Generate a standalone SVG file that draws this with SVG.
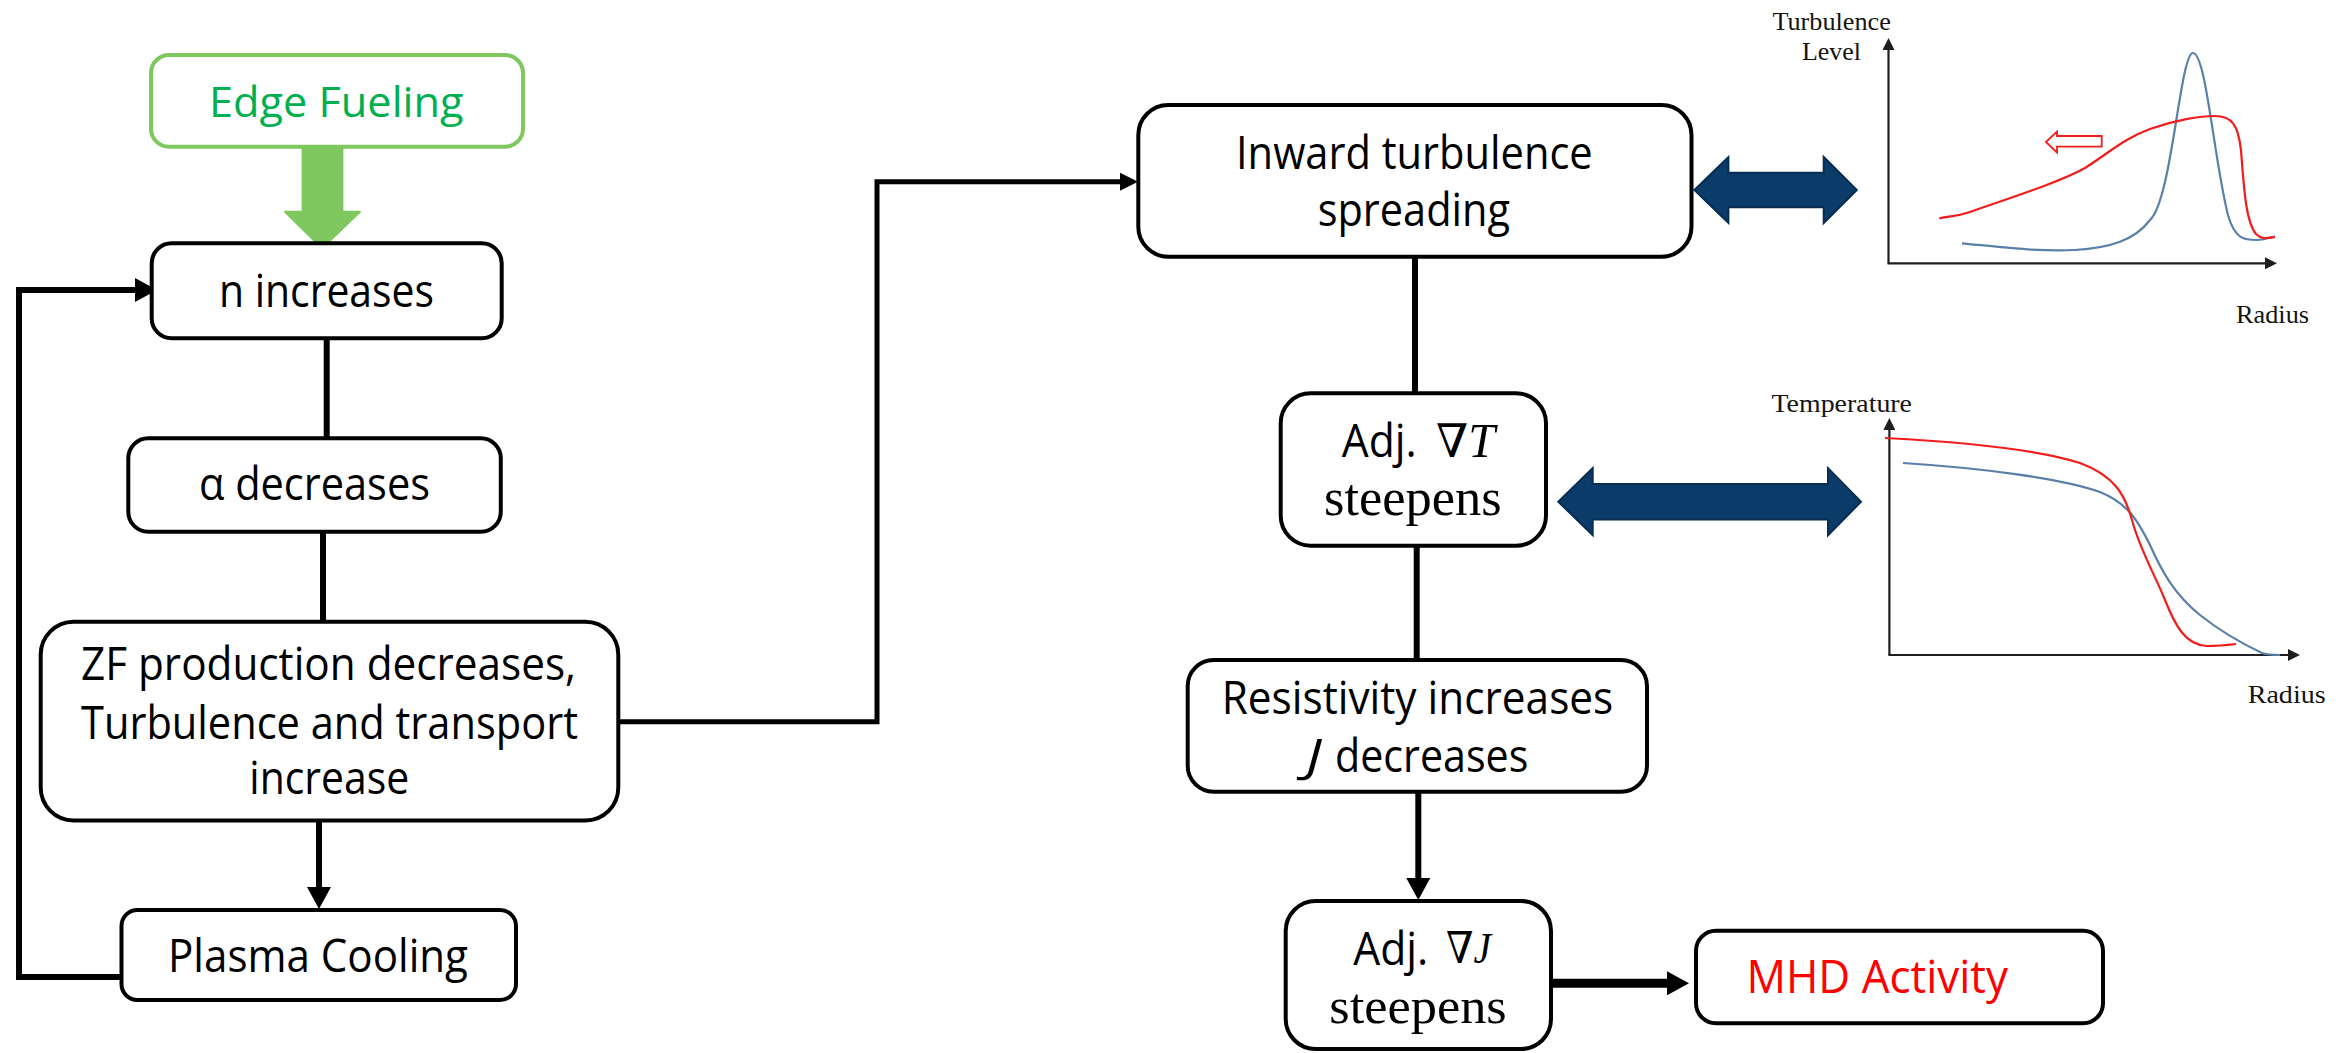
<svg xmlns="http://www.w3.org/2000/svg" width="2351" height="1053" viewBox="0 0 2351 1053">
  <style>
    .box { fill: #ffffff; stroke: #000000; stroke-width: 4; }
    .fuel { fill: #ffffff; stroke: #7ec85f; stroke-width: 4; }
    .lbl { font-family: "Open Sans", "Liberation Sans", sans-serif; font-size: 45px; fill: #000000; }
    .math { font-family: "Liberation Serif", "DejaVu Serif", serif; fill: #000000; }
    .nabla { font-family: "DejaVu Serif", serif; font-style: italic; font-size: 46px; }
    .ax-lbl { font-family: "Liberation Serif", "Times New Roman", serif; font-size: 26px; fill: #141414; }
    .wire { fill: none; stroke: #000000; stroke-width: 6; }
    .thin { fill: none; stroke: #000000; stroke-width: 5; }
    .thick { fill: none; stroke: #000000; stroke-width: 9; }
    .dbl { fill: #0b3b69; stroke: #082d52; stroke-width: 2; stroke-linejoin: miter; }
    .axis { fill: none; stroke: #1e1e1e; stroke-width: 2.2; }
    .red { fill: none; stroke: #f21c1c; stroke-width: 2.2; }
    .blue { fill: none; stroke: #5a7fa8; stroke-width: 2.2; }
  </style>
  <defs>
    <marker id="head" viewBox="0 0 22 24" refX="0" refY="12" markerWidth="22" markerHeight="24" markerUnits="userSpaceOnUse" orient="auto">
      <path d="M0,0 L22,12 L0,24 Z" fill="#000000"/>
    </marker>
    <marker id="head-sm" viewBox="0 0 18 18" refX="0" refY="9" markerWidth="18" markerHeight="18" markerUnits="userSpaceOnUse" orient="auto">
      <path d="M0,0 L18,9 L0,18 Z" fill="#000000"/>
    </marker>
    <marker id="axhead" viewBox="0 0 12 12" refX="0" refY="6" markerWidth="12" markerHeight="12" markerUnits="userSpaceOnUse" orient="auto">
      <path d="M0,0 L12,6 L0,12 Z" fill="#1e1e1e"/>
    </marker>
  </defs>

  <rect width="2351" height="1053" fill="#ffffff"/>

  <!-- connectors -->
  <g id="connectors">
    <!-- fueling input -->
    <polygon points="302.6,147 342.4,147 342.4,211.7 360,211.7 322,248.3 285,211.7 302.6,211.7" fill="#7ec85f" stroke="#7ec85f" stroke-width="2" stroke-linejoin="round"/>
    <!-- cooling feedback loop -->
    <path class="wire" d="M121.5,977 H19 V290 H135" marker-end="url(#head)"/>
    <path class="wire" d="M326.7,338 V438"/>
    <path class="wire" d="M323,532 V622"/>
    <path class="wire" d="M319,820.5 V887" marker-end="url(#head)"/>
    <!-- left chain to right chain -->
    <path class="thin" d="M618,721.7 H877 V181.7 H1120" marker-end="url(#head-sm)"/>
    <path class="wire" d="M1415,257 V393"/>
    <path class="wire" d="M1416.7,546 V660"/>
    <path class="wire" d="M1418.3,792 V878" marker-end="url(#head)"/>
    <path class="thick" d="M1551,983.3 H1667" marker-end="url(#head)"/>
    <!-- links to the profile sketches -->
    <polygon class="dbl" points="1694.4,190 1728.4,157 1728.4,172.7 1823.7,172.7 1823.7,157 1856.8,190 1823.7,223 1823.7,207.3 1728.4,207.3 1728.4,223"/>
    <polygon class="dbl" points="1558.3,501.7 1592.7,468.2 1592.7,484 1828,484 1828,468.2 1861,501.7 1828,535.2 1828,519.4 1592.7,519.4 1592.7,535.2"/>
  </g>

  <!-- nodes -->
  <g id="edge-fueling">
    <rect class="fuel" x="151" y="55" width="372" height="91.7" rx="18"/>
    <text class="lbl" x="209" y="116.7" style="fill:#00b050;font-size:42px" textLength="254.5" lengthAdjust="spacingAndGlyphs">Edge Fueling</text>
  </g>

  <g id="n-increases">
    <rect class="box" x="151.7" y="243.3" width="350" height="95" rx="20"/>
    <text class="lbl" x="219" y="306.7" textLength="215" lengthAdjust="spacingAndGlyphs">n increases</text>
  </g>

  <g id="alpha-decreases">
    <rect class="box" x="128.3" y="438.3" width="372.5" height="93.4" rx="20"/>
    <text class="lbl" x="199" y="500" textLength="231" lengthAdjust="spacingAndGlyphs">α decreases</text>
  </g>

  <g id="zf-production">
    <rect class="box" x="40.7" y="621.7" width="577.6" height="198.8" rx="33"/>
    <text class="lbl" x="81" y="680" textLength="495" lengthAdjust="spacingAndGlyphs">ZF production decreases,</text>
    <text class="lbl" x="81" y="738.5" textLength="497" lengthAdjust="spacingAndGlyphs">Turbulence and transport</text>
    <text class="lbl" x="249.3" y="794.3" textLength="160" lengthAdjust="spacingAndGlyphs">increase</text>
  </g>

  <g id="plasma-cooling">
    <rect class="box" x="121.5" y="910" width="394.5" height="90" rx="16"/>
    <text class="lbl" x="168" y="971.7" textLength="300" lengthAdjust="spacingAndGlyphs">Plasma Cooling</text>
  </g>

  <g id="inward-spreading">
    <rect class="box" x="1138.3" y="105" width="553.2" height="151.7" rx="30"/>
    <text class="lbl" x="1236" y="169.3" textLength="356.7" lengthAdjust="spacingAndGlyphs">Inward turbulence</text>
    <text class="lbl" x="1317.7" y="226" textLength="192.3" lengthAdjust="spacingAndGlyphs">spreading</text>
  </g>

  <g id="grad-t-steepens">
    <rect class="box" x="1280.7" y="393.3" width="265.3" height="152.4" rx="30"/>
    <text class="lbl" x="1341.7" y="457.3" textLength="75" lengthAdjust="spacingAndGlyphs">Adj.</text>
    <text class="math" x="1436" y="457.3" font-size="48" font-style="italic" textLength="59" lengthAdjust="spacingAndGlyphs"><tspan class="nabla">∇</tspan>T</text>
    <text class="math" x="1324" y="515" font-size="52" textLength="177.7" lengthAdjust="spacingAndGlyphs">steepens</text>
  </g>

  <g id="resistivity">
    <rect class="box" x="1187.7" y="660" width="459.3" height="131.7" rx="26"/>
    <text class="lbl" x="1221.7" y="714" textLength="391.6" lengthAdjust="spacingAndGlyphs">Resistivity increases</text>
    <text class="lbl" x="1306" y="771.7" font-style="italic" textLength="15.7" lengthAdjust="spacingAndGlyphs">J</text>
    <text class="lbl" x="1335" y="771.7" textLength="193.3" lengthAdjust="spacingAndGlyphs">decreases</text>
  </g>

  <g id="grad-j-steepens">
    <rect class="box" x="1285.7" y="901" width="265.3" height="148" rx="30"/>
    <text class="lbl" x="1353.3" y="965" textLength="75" lengthAdjust="spacingAndGlyphs">Adj.</text>
    <text class="math" x="1446" y="963" font-size="44" font-style="italic" textLength="45" lengthAdjust="spacingAndGlyphs"><tspan class="nabla" style="font-size:44px">∇</tspan>J</text>
    <text class="math" x="1329.3" y="1022.7" font-size="50" textLength="177.4" lengthAdjust="spacingAndGlyphs">steepens</text>
  </g>

  <g id="mhd-activity">
    <rect class="box" x="1696" y="930.7" width="407" height="92.6" rx="20"/>
    <text class="lbl" x="1746.4" y="993.3" style="fill:#ff0000" textLength="261.6" lengthAdjust="spacingAndGlyphs">MHD Activity</text>
  </g>

  <!-- turbulence level profile -->
  <g id="turbulence-plot">
    <path class="axis" d="M1888.5,263.3 V50" marker-end="url(#axhead)"/>
    <path class="axis" d="M1887.5,263.3 H2265" marker-end="url(#axhead)"/>
    <text class="ax-lbl" x="1772.4" y="30" textLength="118.4" lengthAdjust="spacingAndGlyphs">Turbulence</text>
    <text class="ax-lbl" x="1802" y="60" textLength="59" lengthAdjust="spacingAndGlyphs">Level</text>
    <text class="ax-lbl" x="2236" y="322.7" textLength="73" lengthAdjust="spacingAndGlyphs">Radius</text>
    <path class="blue" d="M1962,243.3 C2000,247 2040,252 2075,250 C2110,248 2135,240 2150,220 C2172,200 2180,53 2193,53 C2206,53 2214,160 2228,215 C2235,240 2245,240 2257,240 C2265,240 2270,237 2275,236.7"/>
    <path class="red" d="M1939.3,218.3 C1950,216 1955,217 1970,212 C2010,198 2060,182 2085,168 C2110,152 2125,138 2150,129 C2175,120 2200,116 2215,116 C2232,116 2238,125 2241,150 C2244,190 2246,222 2256,234 C2262,240 2268,238 2275,237"/>
    <polygon points="2046,142 2057,131.7 2057,136 2101.7,136 2101.7,146.7 2057,146.7 2057,152.7" fill="#ffffff" stroke="#f21c1c" stroke-width="1.8"/>
  </g>

  <!-- temperature profile -->
  <g id="temperature-plot">
    <path class="axis" d="M1889.4,655 V430" marker-end="url(#axhead)"/>
    <path class="axis" d="M1888.4,655 H2288" marker-end="url(#axhead)"/>
    <text class="ax-lbl" x="1771.5" y="411.7" textLength="140.5" lengthAdjust="spacingAndGlyphs">Temperature</text>
    <text class="ax-lbl" x="2247.7" y="703.3" textLength="78" lengthAdjust="spacingAndGlyphs">Radius</text>
    <path class="blue" d="M1903,463 C1980,468 2060,478 2100,492 C2130,504 2140,525 2150,545 C2162,572 2175,595 2200,615 C2225,635 2245,645 2262,653 C2268,655 2275,655 2280,655"/>
    <path class="red" d="M1885,438 C1960,442 2040,450 2080,463 C2115,476 2125,495 2132,520 C2140,550 2155,575 2165,600 C2175,625 2185,645 2207,646 C2220,646 2228,645 2236,644"/>
  </g>
</svg>
